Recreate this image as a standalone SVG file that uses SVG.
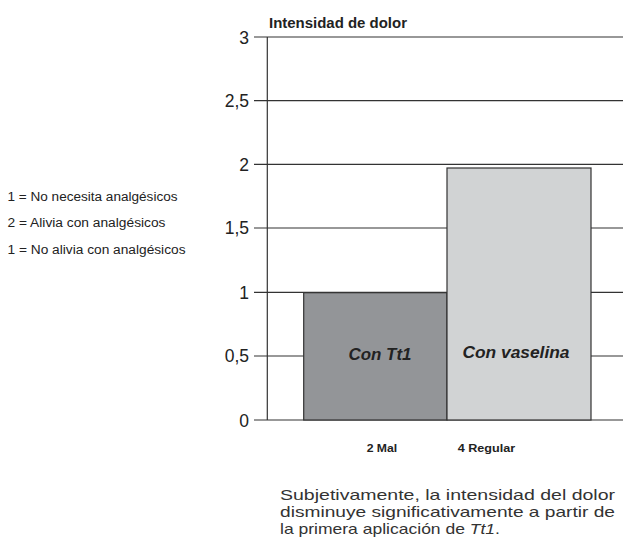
<svg xmlns="http://www.w3.org/2000/svg" width="623" height="543" viewBox="0 0 623 543">
<style>
.grid{stroke:#333;stroke-width:1.2;fill:none}
.tick{font-family:"Liberation Sans",Arial,sans-serif;font-size:17.5px;fill:#222;text-anchor:end}
.leg{font-family:"Liberation Sans",Arial,sans-serif;font-size:12.5px;fill:#222}
.bar{stroke:#333;stroke-width:1.2}
.blab{font-family:"Liberation Sans",Arial,sans-serif;font-size:16px;font-weight:bold;font-style:italic;fill:#222;text-anchor:middle}
.xlab{font-family:"Liberation Sans",Arial,sans-serif;font-size:11.5px;font-weight:bold;fill:#222}
.para{font-family:"Liberation Sans",Arial,sans-serif;font-size:14.5px;fill:#333}
</style>
<rect width="623" height="543" fill="#fff"/>
<g id="grid">
<path class="grid" d="M254 37H623M254 100.7H623M254 164.3H623M254 228H623M254 292.3H623M254 356H623M254 420H623"/>
<path class="grid" d="M267.3 37V420"/>
</g>
<g id="axis-labels">
<text class="tick" x="249" y="43.5">3</text>
<text class="tick" x="249" y="107">2,5</text>
<text class="tick" x="249" y="170.5">2</text>
<text class="tick" x="249" y="234">1,5</text>
<text class="tick" x="249" y="298.5">1</text>
<text class="tick" x="249" y="362">0,5</text>
<text class="tick" x="249" y="426.5">0</text>
<text x="269" y="27.5" font-family="'Liberation Sans',Arial,sans-serif" font-size="14" font-weight="bold" fill="#222" textLength="138" lengthAdjust="spacingAndGlyphs">Intensidad de dolor</text>
</g>
<g id="legend">
<text class="leg" x="7.5" y="200.5" textLength="170" lengthAdjust="spacingAndGlyphs">1 = No necesita analgésicos</text>
<text class="leg" x="7.5" y="227" textLength="158" lengthAdjust="spacingAndGlyphs">2 = Alivia con analgésicos</text>
<text class="leg" x="7.5" y="253.5" textLength="178" lengthAdjust="spacingAndGlyphs">1 = No alivia con analgésicos</text>
</g>
<g id="bar-tt1">
<rect class="bar" x="303.7" y="292.7" width="143.3" height="127.3" fill="#939598"/>
<text class="blab" x="380" y="360" textLength="63" lengthAdjust="spacingAndGlyphs">Con Tt1</text>
</g>
<g id="bar-vaselina">
<rect class="bar" x="447" y="168" width="144" height="252" fill="#d1d3d4"/>
<text class="blab" x="516" y="358" textLength="107" lengthAdjust="spacingAndGlyphs">Con vaselina</text>
</g>
<g id="x-labels">
<text class="xlab" x="366.7" y="452" textLength="30.5" lengthAdjust="spacingAndGlyphs">2 Mal</text>
<text class="xlab" x="457.7" y="452" textLength="57.5" lengthAdjust="spacingAndGlyphs">4 Regular</text>
</g>
<g id="caption">
<text class="para" x="280" y="500" textLength="335" lengthAdjust="spacingAndGlyphs">Subjetivamente, la intensidad del dolor</text>
<text class="para" x="280" y="516.8" textLength="335" lengthAdjust="spacingAndGlyphs">disminuye significativamente a partir de</text>
<text class="para" x="280" y="533.5" textLength="220" lengthAdjust="spacingAndGlyphs">la primera aplicación de <tspan font-style="italic">Tt1</tspan>.</text>
</g>
</svg>
